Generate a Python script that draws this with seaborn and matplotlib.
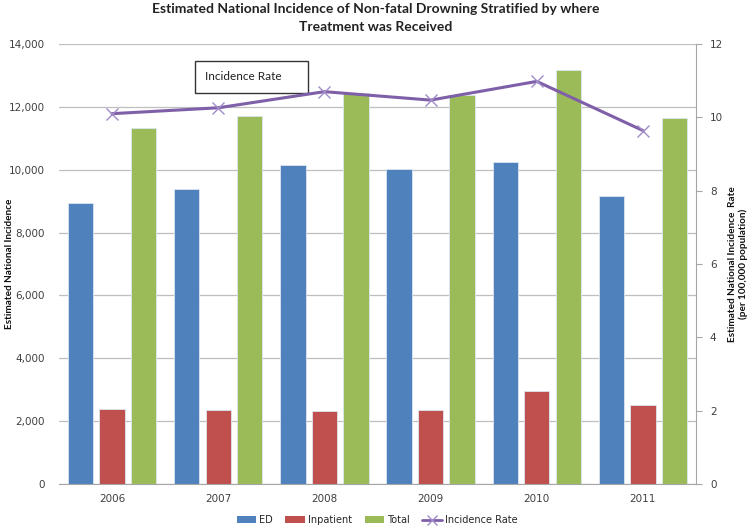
import numpy as np
import pandas as pd
import matplotlib
matplotlib.use("Agg")
import matplotlib.pyplot as plt
import seaborn as sns
from matplotlib.patches import Patch, Rectangle
from matplotlib.lines import Line2D

years = ["2006", "2007", "2008", "2009", "2010", "2011"]
ed = [8950, 9380, 10150, 10020, 10250, 9150]
inpatient = [2380, 2350, 2320, 2370, 2960, 2510]
total = [11320, 11710, 12430, 12390, 13180, 11650]
rate = [10.10, 10.26, 10.70, 10.47, 10.98, 9.64]
series = ["ED", "Inpatient", "Total"]
colors = ["#4F81BD", "#C0504D", "#9BBB59"]
line_color = "#7F5FA8"

sns.set_style("white")
plt.rcParams["font.family"] = ["DejaVu Sans"]

df = pd.DataFrame({
    "Year": years * 3,
    "Series": [s for s in series for _ in years],
    "Value": ed + inpatient + total,
})

W, H = 752, 530
fig = plt.figure(figsize=(W / 100, H / 100), dpi=100)
ax = fig.add_axes([59 / W, 46 / H, (696 - 59) / W, (484 - 44) / H])

sns.barplot(data=df, x="Year", y="Value", hue="Series", order=years,
            hue_order=series, palette=colors, saturation=1, width=0.89, gap=0.2,
            edgecolor="#DCE6F0", linewidth=0.6, ax=ax, legend=False)

ax.set_ylim(0, 14000)
ax.set_xlim(-0.5, 5.5)
ax.set_yticks(np.arange(0, 14001, 2000))
ax.yaxis.set_major_formatter(matplotlib.ticker.FuncFormatter(lambda v, p: f"{int(v):,}"))
ax.grid(axis="y", color="#BFBFBF", linewidth=0.9)
ax.set_axisbelow(True)
for s in ["top", "right", "left"]:
    ax.spines[s].set_visible(False)
ax.spines["bottom"].set_color("#A6A6A6")
ax.tick_params(axis="y", length=0, pad=10, labelsize=7.5, colors="#404040")
ax.tick_params(axis="x", length=0, pad=7, labelsize=7.5, colors="#404040")
ax.set_xlabel("")
ax.set_ylabel("Estimated National Incidence", fontsize=7.2, fontweight="bold",
              family=["Lato"], color="#111111")
ax.yaxis.set_label_coords(-(59 - 14) / 637, 0.5)

ax2 = ax.twinx()
sns.lineplot(x=years, y=rate, color=line_color, linewidth=2.2, marker="x",
             markersize=8, markeredgecolor="#9F8CC8", markeredgewidth=1.0,
             ax=ax2, sort=False)
ax2.set_ylim(0, 12)
ax2.set_xlim(-0.5, 5.5)
ax2.set_yticks(np.arange(0, 13, 2))
for s in ["top", "left", "bottom"]:
    ax2.spines[s].set_visible(False)
ax2.spines["right"].set_color("#A6A6A6")
ax2.tick_params(axis="y", length=4, color="#A6A6A6", pad=6, labelsize=7.5,
                labelcolor="#404040")
ax2.set_ylabel("")
ax2.grid(False)
fig.text(738 / W, 1 - 264 / H,
         "Estimated National Incidence  Rate\n(per 100,000 population)",
         fontsize=7.2, fontweight="bold", family=["Lato"], color="#111111",
         rotation=90, linespacing=1.15, ha="center", va="center",
         multialignment="center")

fig.suptitle("Estimated National Incidence of Non-fatal Drowning Stratified by where\nTreatment was Received",
             x=0.5, y=0.995, fontsize=10, fontweight="bold", family=["Lato"],
             color="#222222", linespacing=1.6)

ax.add_patch(Rectangle((136 / 637, 0.889), 113 / 637, 0.072, transform=ax.transAxes,
                       facecolor="white", edgecolor="#333333", linewidth=1.0,
                       zorder=5))
ax.text(146 / 637, 0.925, "Incidence Rate", transform=ax.transAxes, fontsize=8.5,
        family=["Lato"], va="center", ha="left", zorder=6, color="#222222")

handles = [Patch(facecolor=c, edgecolor="none") for c in colors]
handles.append(Line2D([0], [0], color=line_color, linewidth=2, marker="x",
                      markersize=7, markeredgecolor="#9F8CC8"))
fig.legend(handles, series + ["Incidence Rate"], loc="center", ncol=4,
           bbox_to_anchor=(377 / W, 10 / H), frameon=False, fontsize=7,
           handlelength=2.0, handleheight=0.6, columnspacing=1.3,
           handletextpad=0.3, borderpad=0)

fig.savefig("out.png", dpi=100)
